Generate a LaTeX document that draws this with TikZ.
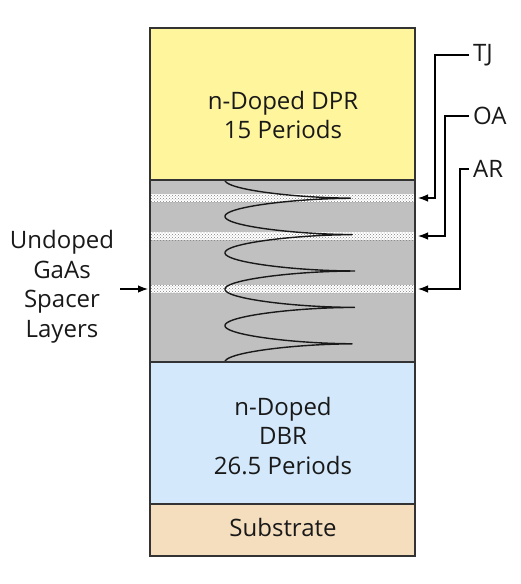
\documentclass[tikz,border=0pt]{standalone}
\usepackage{fontspec}
\setmainfont{Open Sans}
\usetikzlibrary{arrows.meta,patterns}
\definecolor{dprY}{HTML}{FFF59C}
\definecolor{spGray}{HTML}{C0C0C0}
\definecolor{dbrB}{HTML}{D3E8FA}
\definecolor{subO}{HTML}{F5DEBE}
\definecolor{edge}{HTML}{333333}
\begin{document}
\begin{tikzpicture}[x=1pt,y=-1pt,
  layer/.style={draw=edge,line width=1.3pt},
  lbl/.style={font=\fontsize{24}{29.5}\selectfont,align=center,text=black!90,inner sep=1pt},
  ptr/.style={line width=1.2pt,-{Latex[length=10pt,width=7.5pt]}}]
\useasboundingbox (0,0) rectangle (521,584);
% layers
\fill[dprY] (150,28) rectangle (415,180);
\fill[spGray] (150,180) rectangle (415,362);
\fill[dbrB] (150,362) rectangle (415,504);
\fill[subO] (150,504) rectangle (415,556);
% spacer bands
\foreach \yy in {198,236,289}{
  \fill[white] (150,\yy-4) rectangle (415,\yy+4);
  \fill[pattern=crosshatch dots,pattern color=gray] (150,\yy-4) rectangle (415,\yy+4);
}
% standing wave
\draw[line width=1.4pt,black!90,line join=round] plot[domain=0:10,samples=2001,variable=\s]
  ({358-133*sqrt(abs(cos(90*\s)))},{180+18.2*\s});
% outlines
\draw[layer] (150,28) rectangle (415,556);
\draw[layer] (150,180) -- (415,180);
\draw[layer] (150,362) -- (415,362);
\draw[layer] (150,504) -- (415,504);
% labels
\node[lbl] (dpr) at (283,115) {n-Doped DPR\\15 Periods};
\node[lbl] (dbr) at (283,436) {n-Doped\\DBR\\26.5 Periods};
\node[lbl] (sub) at (283,527) {Substrate};
\node[lbl] (spc) at (62,287) {Undoped\\GaAs\\Spacer\\Layers};
\node[lbl,anchor=west] (tj) at (472,55) {TJ};
\node[lbl,anchor=west] (oa) at (472,116) {OA};
\node[lbl,anchor=west] (ar) at (472,169) {AR};
\coordinate (tjT) at (418,198);
\coordinate (oaT) at (418,236);
\coordinate (arT) at (418,289);
\coordinate (spT) at (148,289);
\draw[ptr] ([xshift=-3pt]tj.west) -| (435,198) -- (tjT);
\draw[ptr] ([xshift=-3pt]oa.west) -| (445,236) -- (oaT);
\draw[ptr] ([xshift=-3pt]ar.west) -| (460,289) -- (arT);
\draw[ptr] (120,289) -- (spT);
\end{tikzpicture}
\end{document}
